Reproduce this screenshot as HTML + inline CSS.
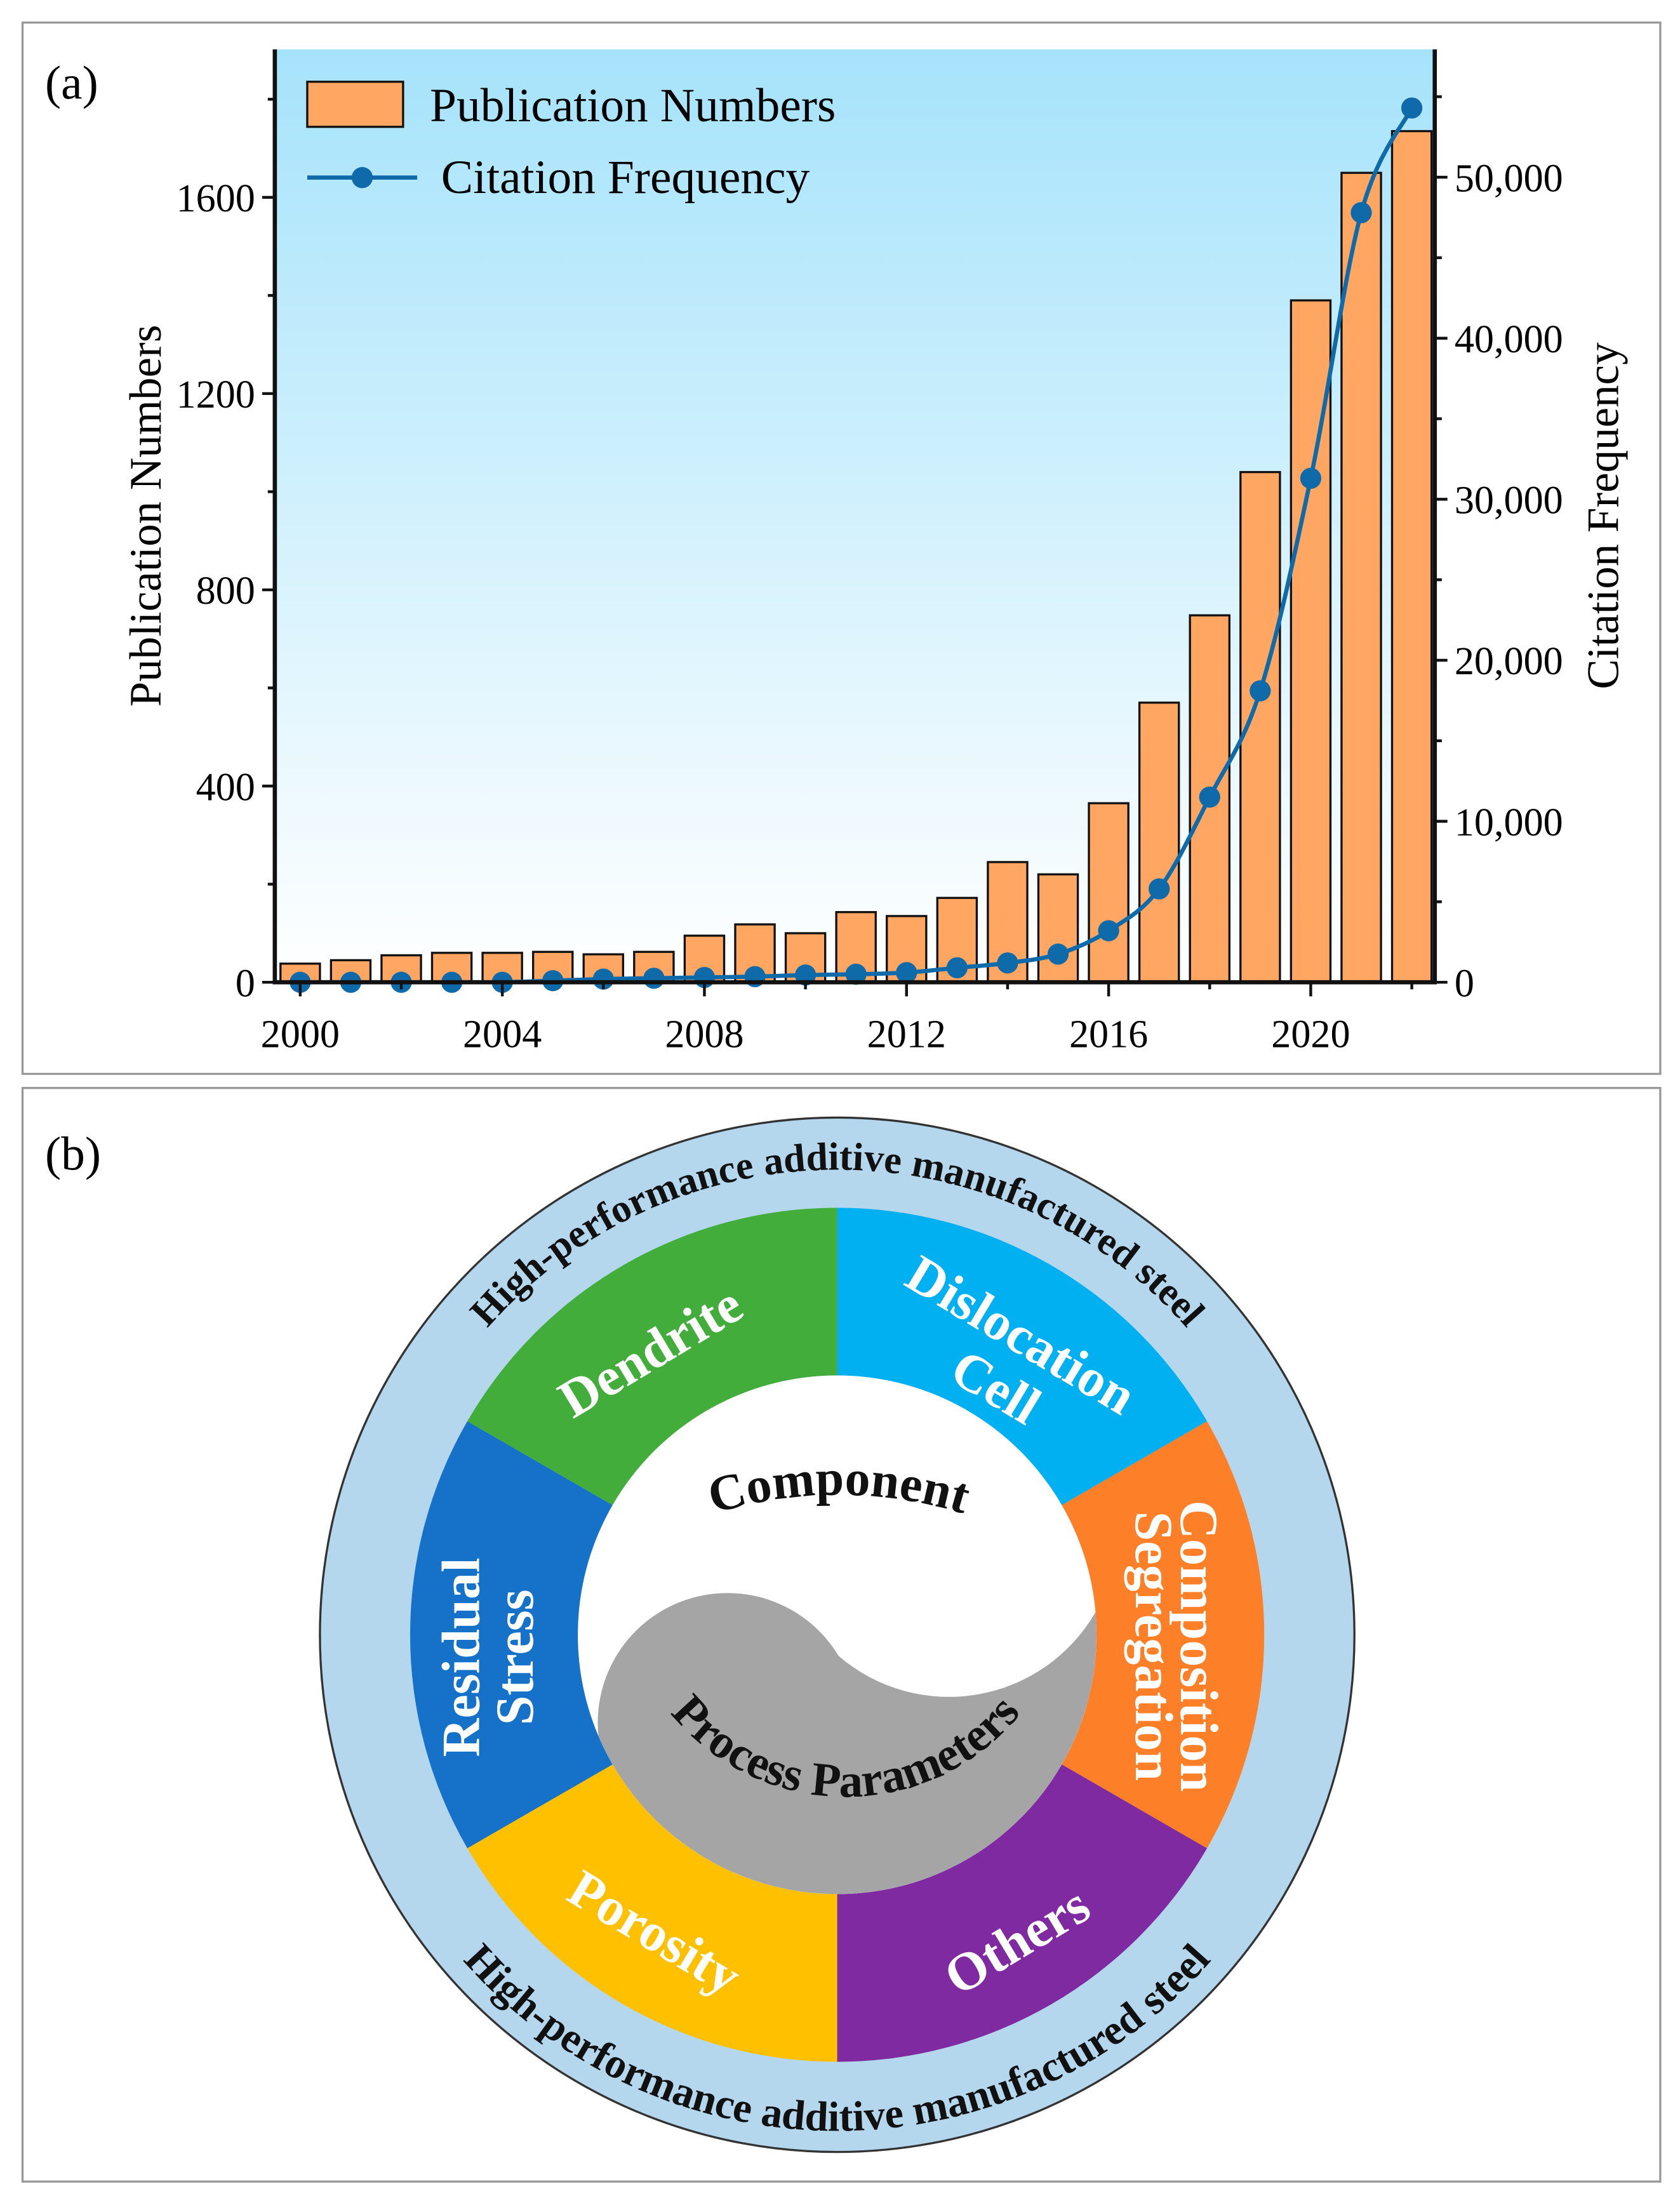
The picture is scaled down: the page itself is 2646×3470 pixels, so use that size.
<!DOCTYPE html>
<html><head><meta charset="utf-8"><style>
html,body{margin:0;padding:0;background:#fff}
svg{display:block;font-family:"Liberation Serif",serif}
</style></head><body>
<svg id="fig" width="2646" height="3470" viewBox="0 0 1192 1563.2" xmlns="http://www.w3.org/2000/svg">
<defs>
<linearGradient id="bg" x1="0" y1="0" x2="0" y2="1">
<stop offset="0" stop-color="#a6e3fb"/><stop offset="1" stop-color="#ffffff"/>
</linearGradient>
<path id="topArc" d="M 264 1160 A 330 330 0 0 1 924 1160"/>
<path id="botArc" d="M 242 1160 A 352 352 0 0 0 946 1160"/>
<path id="ppArc" d="M 440 1115 A 160 160 0 0 0 760 1115"/>
<path id="compArc" d="M 470 1088 A 300 300 0 0 1 720 1088"/>
</defs>
<rect x="16" y="16" width="1162" height="746" fill="none" stroke="#999" stroke-width="1.5"/>
<rect x="16" y="772" width="1162" height="776" fill="none" stroke="#999" stroke-width="1.5"/>
<text x="32" y="70" font-size="34">(a)</text>
<text x="32" y="830" font-size="34">(b)</text>
<rect x="195" y="35" width="823" height="662" fill="url(#bg)"/>
<g id="chart"></g>
<g id="ring">
<circle cx="594" cy="1160" r="367" fill="#b4d7ee" stroke="#333" stroke-width="1.5"/>
</g>
</svg>
<script>
const NS="http://www.w3.org/2000/svg";
const years=[2000,2001,2002,2003,2004,2005,2006,2007,2008,2009,2010,2011,2012,2013,2014,2015,2016,2017,2018,2019,2020,2021,2022];
const publications=[38,45,55,60,60,62,57,62,95,118,100,143,135,172,245,220,365,570,748,1040,1390,1650,1735];
const citations=[0,0,0,0,0,100,200,250,300,350,450,500,600,900,1200,1750,3200,5800,11500,18100,31300,47800,54300];
const leftTicks=[0,400,800,1200,1600];
const rightTicks=[0,10000,20000,30000,40000,50000];
const rightTickLabels=["0","10,000","20,000","30,000","40,000","50,000"];
const xTicks=[2000,2004,2008,2012,2016,2020];

const X0=195,X1=1018,Y0=697,Y1=35;
const xs=y=>213+(y-2000)*35.85;
const yl=v=>697-v*0.3481;
const yr=v=>697-v*0.011425;
const g=document.getElementById('chart');
function mk(tag,at,parent){const e=document.createElementNS(NS,tag);for(const k in at)e.setAttribute(k,at[k]);(parent||g).appendChild(e);return e;}

years.forEach((yr_,i)=>{
 const b=mk('rect',{x:xs(yr_)-14,y:yl(publications[i]),width:28,height:697-yl(publications[i]),fill:'#fea662',stroke:'#111','stroke-width':1.5});
 
 
});
const pts=years.map((y,i)=>[xs(y),yr(citations[i])]);
let d='M'+pts[0][0]+','+pts[0][1];
for(let i=0;i<pts.length-1;i++){
 const p0=pts[Math.max(0,i-1)],p1=pts[i],p2=pts[i+1],p3=pts[Math.min(pts.length-1,i+2)];
 const c1=[p1[0]+(p2[0]-p0[0])/6,p1[1]+(p2[1]-p0[1])/6],c2=[p2[0]-(p3[0]-p1[0])/6,p2[1]-(p3[1]-p1[1])/6];
 d+=` C${c1[0]},${Math.min(c1[1],697)} ${c2[0]},${Math.min(c2[1],697)} ${p2[0]},${p2[1]}`;
}
const ln=mk('path',{d:d,fill:'none',stroke:'#0f6aaa','stroke-width':3});


pts.forEach((p,i)=>{
 const c=mk('circle',{cx:p[0],cy:p[1],r:7.5,fill:'#0f6aaa'});
 
 
});
const fr=mk('path',{d:`M${X0},${Y1} V${Y0} H${X1} V${Y1}`,fill:'none',stroke:'#111','stroke-width':3});


for(let v=0;v<=1800;v+=200){const major=v%400===0;mk('line',{x1:X0,x2:X0-(major?9:5),y1:yl(v),y2:yl(v),stroke:'#111','stroke-width':2});}
leftTicks.forEach(v=>{const t=mk('text',{x:X0-14,y:yl(v)+10,'font-size':28,'text-anchor':'end'});t.textContent=v;
 
 });
for(let v=0;v<=55000;v+=5000){const major=v%10000===0;mk('line',{x1:X1,x2:X1+(major?9:5),y1:yr(v),y2:yr(v),stroke:'#111','stroke-width':2});}
rightTicks.forEach((v,i)=>{const t=mk('text',{x:X1+14,y:yr(v)+10,'font-size':28});t.textContent=rightTickLabels[i];
 
 });
for(let y=2000;y<=2022;y+=2){const major=y%4===0;mk('line',{x1:xs(y),x2:xs(y),y1:Y0,y2:Y0+(major?10:5),stroke:'#111','stroke-width':2});}
xTicks.forEach(y=>{const t=mk('text',{x:xs(y),y:Y0+46,'font-size':28,'text-anchor':'middle'});t.textContent=y;
 
 });
let t=mk('text',{transform:'translate(114,366) rotate(-90)','font-size':32,'text-anchor':'middle'});t.textContent='Publication Numbers';


t=mk('text',{transform:'translate(1148,366) rotate(-90)','font-size':32,'text-anchor':'middle'});t.textContent='Citation Frequency';


let e=mk('rect',{x:218,y:58,width:68,height:32,fill:'#fea662',stroke:'#111','stroke-width':1.5});


t=mk('text',{x:305,y:86,'font-size':34});t.textContent='Publication Numbers';


e=mk('line',{x1:218,x2:296,y1:126,y2:126,stroke:'#0f6aaa','stroke-width':3});


mk('circle',{cx:257,cy:126,r:7.5,fill:'#0f6aaa'});
t=mk('text',{x:313,y:137,'font-size':34});t.textContent='Citation Frequency';



const R=document.getElementById('ring');
const C=[594,1160];
const segs=[
 {n:'dislocation-cell',a0:-90,a1:-30,c:'#00b0f0'},
 {n:'composition-segregation',a0:-30,a1:30,c:'#fd7f27'},
 {n:'others',a0:30,a1:90,c:'#7f2aa0'},
 {n:'porosity',a0:90,a1:150,c:'#ffc000'},
 {n:'residual-stress',a0:150,a1:210,c:'#1671c9'},
 {n:'dendrite',a0:210,a1:270,c:'#43ad3b'}];
const pol=(r,a)=>[C[0]+r*Math.cos(a*Math.PI/180),C[1]+r*Math.sin(a*Math.PI/180)];
segs.forEach(s=>{
 const a=pol(303,s.a0),b=pol(303,s.a1),c=pol(184,s.a1),dd=pol(184,s.a0);
 const p=mk('path',{d:`M${a} A303 303 0 0 1 ${b} L${c} A184 184 0 0 0 ${dd} Z`,fill:s.c},R);
 
 
});
e=mk('circle',{cx:594,cy:1160,r:184,fill:'#fff'},R);


const L=pol(184,157),RR=pol(184,-5);
e=mk('path',{d:`M${L} A92 92 0 0 1 595,1175 A120 120 0 0 0 ${RR} A184 184 0 0 1 ${L} Z`,fill:'#a5a5a5'},R);


function lab(txt,x,y,rot,name,size,fill){const q=mk('text',{x:0,y:0,transform:`translate(${x},${y}) rotate(${rot})`,'font-size':size||38,'font-weight':'bold','text-anchor':'middle',fill:fill||'#fff'},R);q.textContent=txt;
 
 }
lab('Dendrite',468,970,-31,'label-dendrite');
lab('Dislocation',718,958,31,'label-dislocation');
lab('Cell',700,995,31,'label-cell');
lab('Composition',838,1168,90,'label-composition');
lab('Segregation',806,1168,90,'label-segregation');
lab('Residual',340,1176,-90,'label-residual');
lab('Stress',378,1176,-90,'label-stress');
lab('Porosity',458,1382,31,'label-porosity');
lab('Others',728,1388,-31,'label-others');
function arcText(txt,href,name,size,fill){const q=mk('text',{'font-size':size,'font-weight':'bold',fill:fill||'#111','text-anchor':'middle'},R);
 const tp=mk('textPath',{href:href,startOffset:'50%'},q);tp.textContent=txt;
 
 }
arcText('High-performance additive manufactured steel','#topArc','ring-title-top',28);
arcText('High-performance additive manufactured steel','#botArc','ring-title-bottom',30);
arcText('Process Parameters','#ppArc','label-process-parameters',34);
arcText('Component','#compArc','label-component',36);
</script>
</body></html>
